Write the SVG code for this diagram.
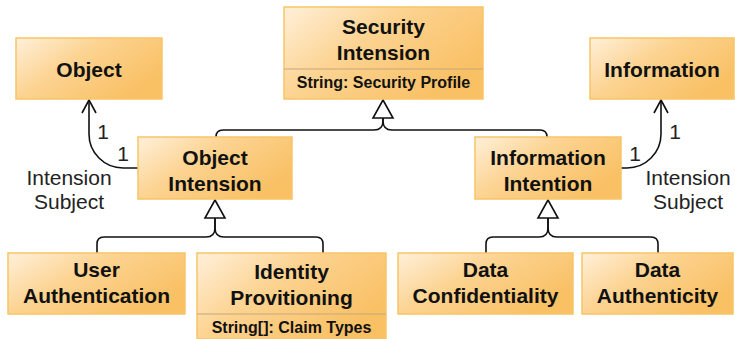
<svg xmlns="http://www.w3.org/2000/svg" width="735" height="339" viewBox="0 0 735 339">
  <defs>
    <linearGradient id="boxFill" x1="0" y1="0" x2="1" y2="0.6">
      <stop offset="0" stop-color="#FFF0DA"/>
      <stop offset="0.45" stop-color="#FCD391"/>
      <stop offset="1" stop-color="#F9C064"/>
    </linearGradient>
  </defs>
  <style>
    .box { fill: url(#boxFill); stroke: #F7C565; stroke-width: 1.5; }
    .sep { stroke: #C6A77C; stroke-width: 1.2; }
    .title { font-family: "Liberation Sans", Arial, sans-serif; font-weight: bold; font-size: 21px; fill: #111; text-anchor: middle; }
    .attr { font-family: "Liberation Sans", Arial, sans-serif; font-weight: bold; font-size: 16px; fill: #111; text-anchor: middle; }
    .lbl { font-family: "Liberation Sans", Arial, sans-serif; font-size: 21px; fill: #222; text-anchor: middle; }
    .line { fill: none; stroke: #111; stroke-width: 1.6; }
    .tri { fill: #fff; stroke: #111; stroke-width: 1.6; stroke-linejoin: miter; }
  </style>

  <!-- connectors -->
  <g id="connectors">
    <!-- generalization: Security Intension -->
    <path class="line" d="M383,118 V121 Q383,130 374,130 H223 Q216,130 216,137"/>
    <path class="line" d="M383,118 V121 Q383,130 392,130 H540 Q547,130 547,137"/>
    <polygon class="tri" points="383,100 373,118 393,118"/>
    <!-- generalization: Object Intension -->
    <path class="line" d="M215,218 V228 Q215,237 206,237 H104 Q97,237 97,244 V253"/>
    <path class="line" d="M215,218 V228 Q215,237 224,237 H316 Q323,237 323,244 V253"/>
    <polygon class="tri" points="215,200 205,218 225,218"/>
    <!-- generalization: Information Intention -->
    <path class="line" d="M548,218 V228 Q548,237 539,237 H493 Q486,237 486,244 V253"/>
    <path class="line" d="M548,218 V228 Q548,237 557,237 H651 Q658,237 658,244 V253"/>
    <polygon class="tri" points="548,200 538,218 558,218"/>
    <!-- association: Object Intension -> Object -->
    <path class="line" d="M138,168 H123 A34,34 0 0 1 89,134 V100"/>
    <polyline class="line" points="82,113 89,100 96,113"/>
    <!-- association: Information Intention -> Information -->
    <path class="line" d="M621,168 H627 A34,34 0 0 0 661,134 V100"/>
    <polyline class="line" points="654,113 661,100 668,113"/>
    <!-- multiplicities and role names -->
    <text class="lbl" x="103" y="139">1</text>
    <text class="lbl" x="123" y="161">1</text>
    <text class="lbl" x="675" y="139">1</text>
    <text class="lbl" x="635" y="161">1</text>
    <text class="lbl" x="69" y="185">Intension</text>
    <text class="lbl" x="69" y="209">Subject</text>
    <text class="lbl" x="688" y="185">Intension</text>
    <text class="lbl" x="688" y="209">Subject</text>
  </g>

  <g id="security-intension">
    <rect class="box" x="284" y="7" width="199" height="92"/>
    <line class="sep" x1="284" y1="69" x2="483" y2="69"/>
    <text class="title" x="383.5" y="34">Security</text>
    <text class="title" x="383.5" y="60">Intension</text>
    <text class="attr" x="383.5" y="88">String: Security Profile</text>
  </g>

  <g id="object">
    <rect class="box" x="16" y="38" width="146" height="61"/>
    <text class="title" x="89" y="77">Object</text>
  </g>

  <g id="information">
    <rect class="box" x="590" y="38" width="144" height="61"/>
    <text class="title" x="662" y="77">Information</text>
  </g>

  <g id="object-intension">
    <rect class="box" x="138" y="137" width="154" height="62"/>
    <text class="title" x="215" y="165">Object</text>
    <text class="title" x="215" y="191">Intension</text>
  </g>

  <g id="information-intention">
    <rect class="box" x="475" y="137" width="146" height="62"/>
    <text class="title" x="548" y="165">Information</text>
    <text class="title" x="548" y="191">Intention</text>
  </g>

  <g id="user-authentication">
    <rect class="box" x="8" y="253" width="177" height="61"/>
    <text class="title" x="96.5" y="277">User</text>
    <text class="title" x="96.5" y="303">Authentication</text>
  </g>

  <g id="identity-provitioning">
    <rect class="box" x="197" y="253" width="189" height="86"/>
    <line class="sep" x1="197" y1="314" x2="386" y2="314"/>
    <text class="title" x="291.5" y="279">Identity</text>
    <text class="title" x="291.5" y="305">Provitioning</text>
    <text class="attr" x="291.5" y="333">String[]: Claim Types</text>
  </g>

  <g id="data-confidentiality">
    <rect class="box" x="398" y="253" width="175" height="61"/>
    <text class="title" x="485.5" y="277">Data</text>
    <text class="title" x="485.5" y="303">Confidentiality</text>
  </g>

  <g id="data-authenticity">
    <rect class="box" x="582" y="253" width="151" height="61"/>
    <text class="title" x="657.5" y="277">Data</text>
    <text class="title" x="657.5" y="303">Authenticity</text>
  </g>
</svg>
